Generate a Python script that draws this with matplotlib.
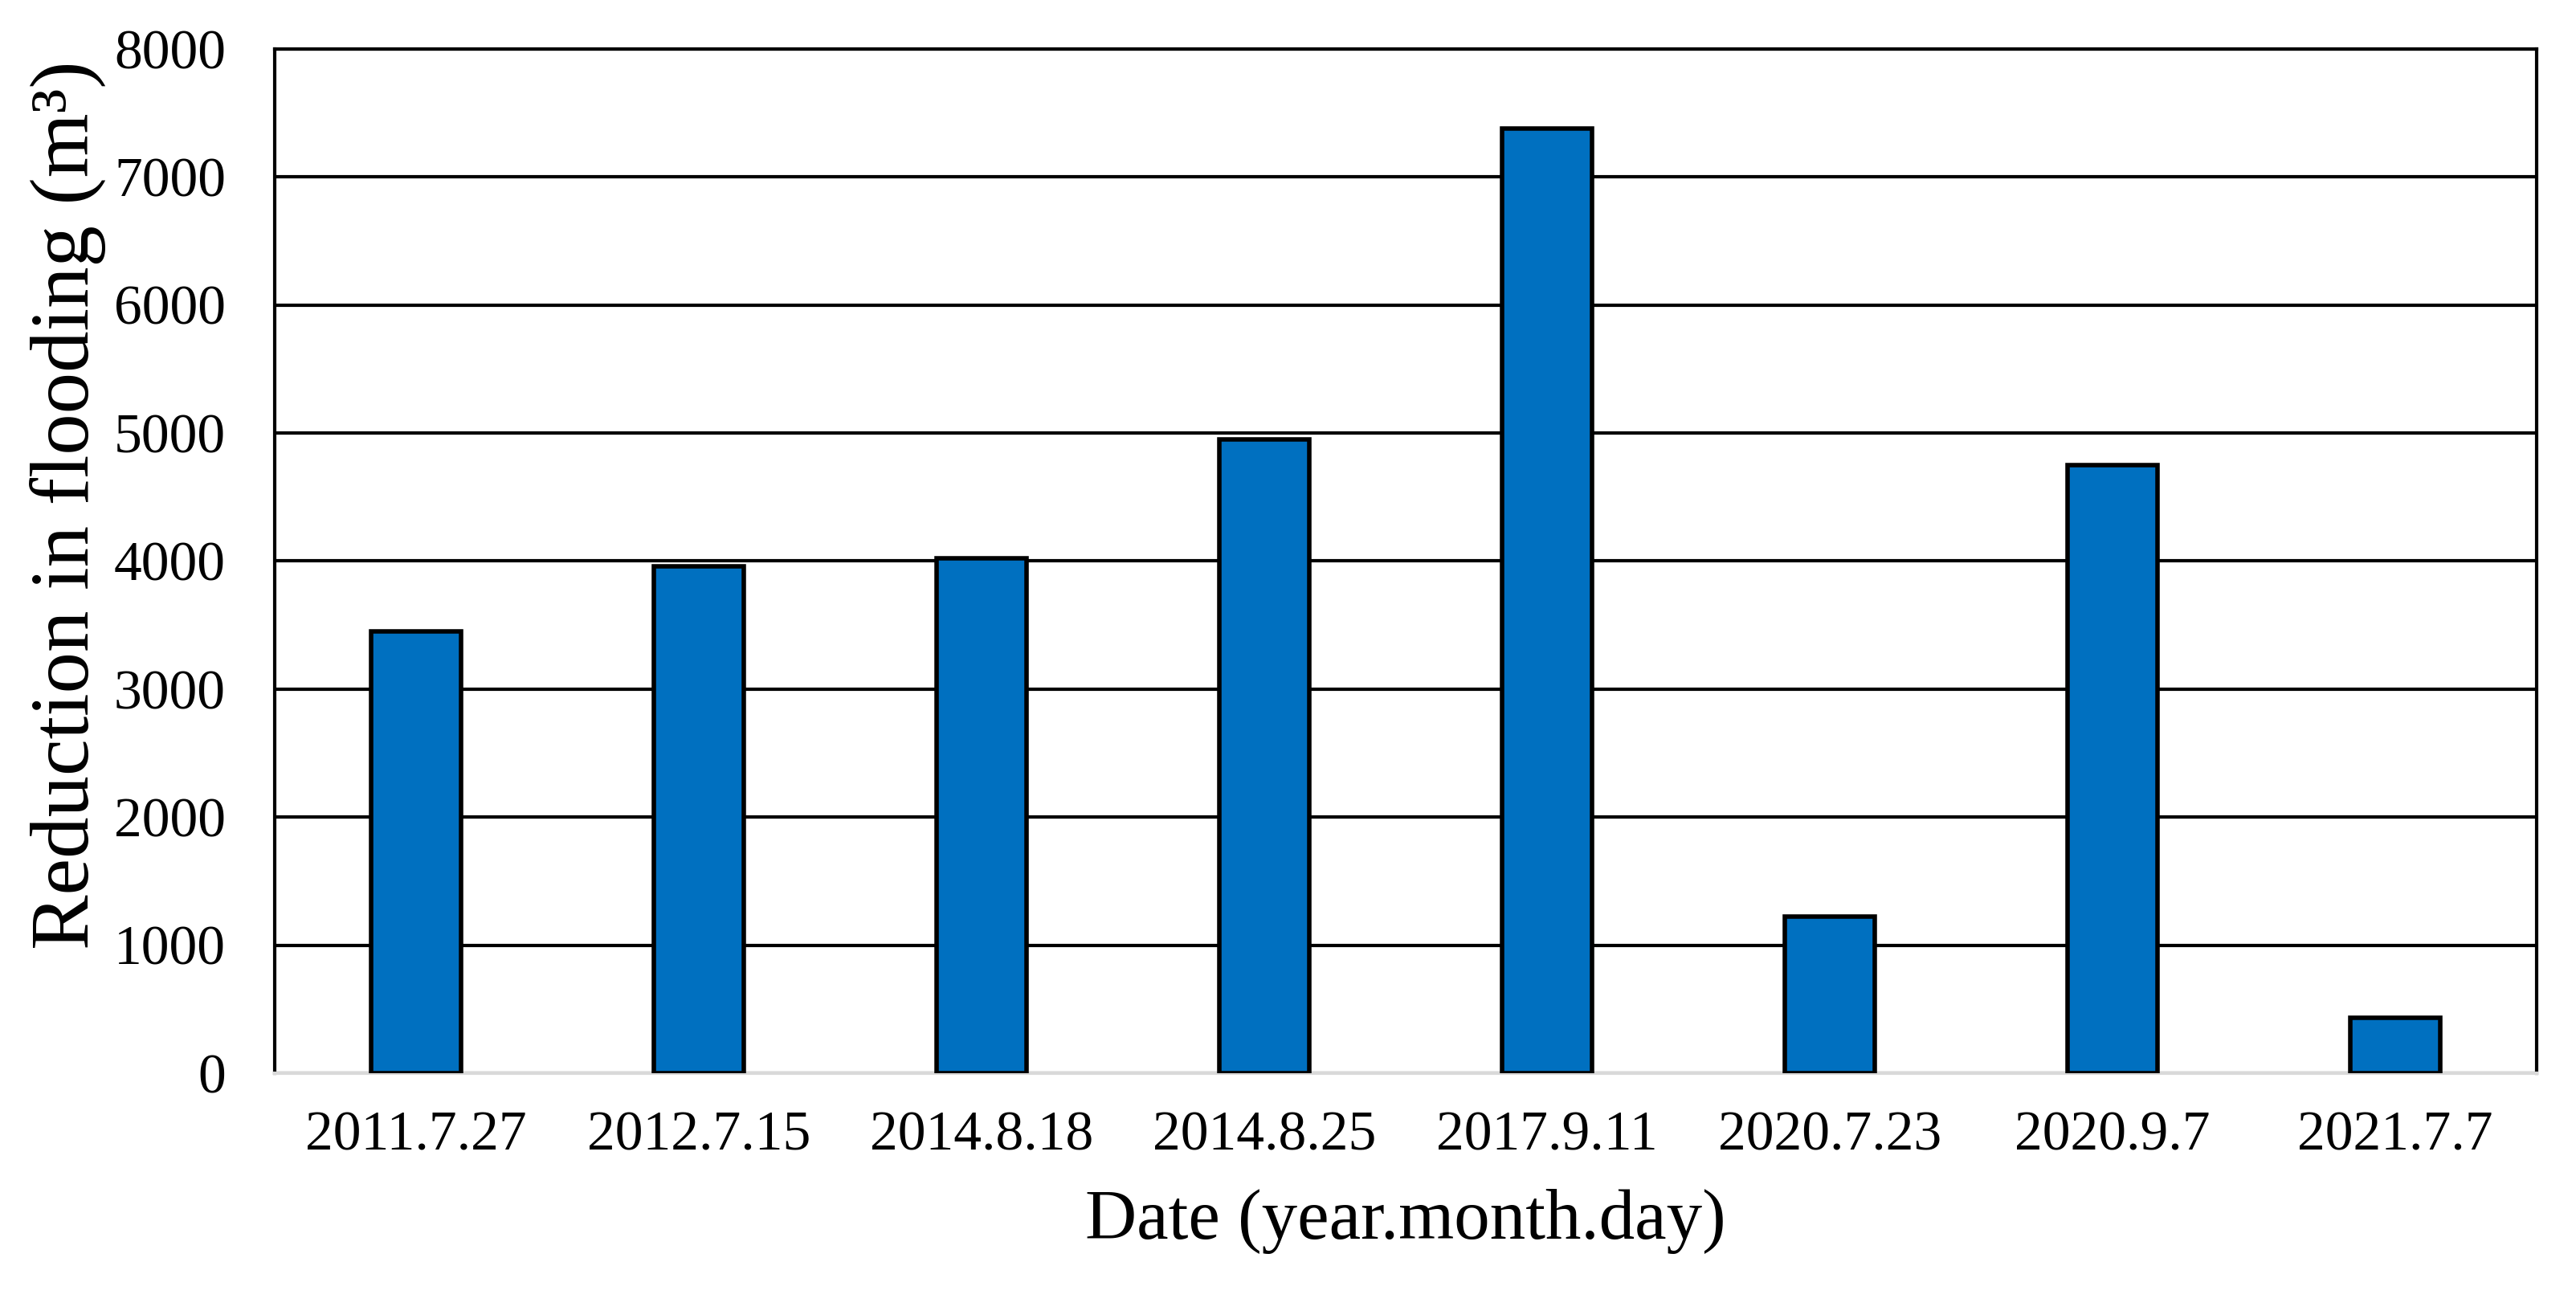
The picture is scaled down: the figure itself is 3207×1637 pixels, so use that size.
import matplotlib
matplotlib.use("Agg")
import matplotlib.pyplot as plt

dates = ["2011.7.27", "2012.7.15", "2014.8.18", "2014.8.25",
         "2017.9.11", "2020.7.23", "2020.9.7", "2021.7.7"]
reduction = [3450, 3960, 4020, 4950, 7380, 1225, 4750, 430]
yticks = [0, 1000, 2000, 3000, 4000, 5000, 6000, 7000, 8000]

plt.rcParams['font.family'] = ['Liberation Serif', 'DejaVu Serif']

fig = plt.figure(figsize=(32.07, 16.37), dpi=100)
ax = fig.add_axes([342/3207, 1 - 1336/1637, (3158-342)/3207, (1336-61)/1637])

x = list(range(len(dates)))
ax.bar(x, reduction, width=0.32, color='#0070C0', edgecolor='black',
       linewidth=4, zorder=3)
ax.set_xlim(-0.5, len(dates) - 0.5)
ax.set_ylim(0, 8000)
ax.set_yticks(yticks)
ax.set_xticks(x)
ax.set_xticklabels(dates)
ax.yaxis.grid(True, color='black', linewidth=3, zorder=0)
ax.set_axisbelow(True)
ax.tick_params(axis='both', length=0, labelsize=50)
ax.tick_params(axis='x', pad=34)
ax.tick_params(axis='y', pad=44)
for s in ['left', 'top', 'right']:
    ax.spines[s].set_color('black')
    ax.spines[s].set_linewidth(3)
ax.spines['bottom'].set_color('#d9d9d9')
ax.spines['bottom'].set_linewidth(3)

ax.set_ylabel('Reduction in flooding (m\u00b3)', fontsize=74)
ax.set_xlabel('Date (year.month.day)', fontsize=64, labelpad=24)
ax.yaxis.set_label_coords(-0.0745, 0.555)

fig.savefig('out.png', dpi=100)
